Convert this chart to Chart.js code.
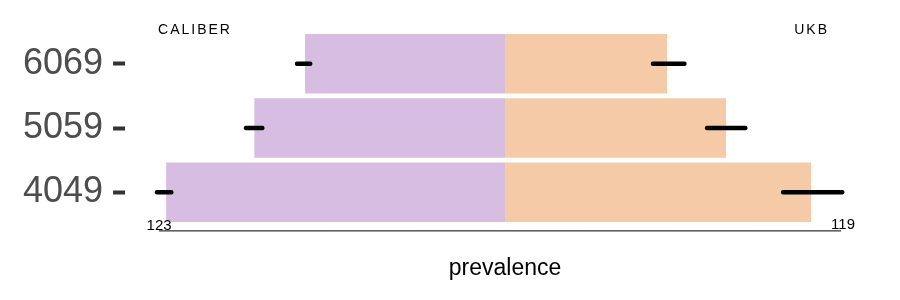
<!DOCTYPE html>
<html>
<head>
<meta charset="utf-8">
<script src="https://cdn.jsdelivr.net/npm/chart.js@4.4.1/dist/chart.umd.min.js"></script>
<style>
  html, body { margin: 0; padding: 0; background: #ffffff; }
  #wrap { width: 900px; height: 300px; }
</style>
</head>
<body>
<div id="wrap"><canvas id="chart" width="900" height="300"></canvas></div>
<script>
// age groups, top to bottom
let ageGroups = ["6069", "5059", "4049"];

// bar lengths (prevalence)
let caliberValues = [71.2, 89.2, 120.5];
let ukbValues = [57.3, 78.2, 108.4];

// error bar ranges [low, high]
let caliberErr = [[68.7, 74.7], [85.7, 92.8], [118.0, 124.4]];
let ukbErr = [[51.6, 64.1], [70.8, 85.7], [97.8, 120.1]];

// labels at the two ends of the axis line
let axisEnds = [123, 119];
let sourceNames = ["CALIBER", "UKB"];

const fontFamily = "'Liberation Sans', Arial, Helvetica, sans-serif";

// left side is drawn as negative values
let caliberBars = caliberValues.map(v => -v);
let caliberErrBars = caliberErr.map(r => [-r[1], -r[0]]);

const extras = {
  id: "extras",
  afterDraw(chart) {
    const ctx = chart.ctx;
    const x = chart.scales.x;
    const area = chart.chartArea;
    const x0 = x.getPixelForValue(-axisEnds[0]);
    const x1 = x.getPixelForValue(axisEnds[1]);
    const lineY = area.bottom + 6.5;

    ctx.save();
    // axis line
    ctx.strokeStyle = "#000000";
    ctx.lineWidth = 1;
    ctx.beginPath();
    ctx.moveTo(x0, lineY);
    ctx.lineTo(x1, lineY);
    ctx.stroke();

    // end labels
    ctx.fillStyle = "#000000";
    ctx.font = "15px " + fontFamily;
    ctx.textAlign = "center";
    ctx.textBaseline = "alphabetic";
    ctx.fillText(String(axisEnds[0]), x0, lineY - 1);
    ctx.fillText(String(axisEnds[1]), x1 + 2, lineY - 2);

    // side headers
    ctx.font = "14px " + fontFamily;
    ctx.letterSpacing = "2px";
    ctx.textBaseline = "middle";
    ctx.textAlign = "left";
    ctx.fillText(sourceNames[0], x0 - 1, 30);
    ctx.textAlign = "right";
    ctx.fillText(sourceNames[1], x1 - 12, 30);
    ctx.restore();
  }
};

new Chart(document.getElementById("chart"), {
  type: "bar",
  data: {
    labels: ageGroups,
    datasets: [
      {
        label: "CALIBER err",
        data: caliberErrBars,
        backgroundColor: "#000000",
        barThickness: 4,
        borderRadius: 2,
        borderSkipped: false,
        grouped: false,
        order: 0
      },
      {
        label: "UKB err",
        data: ukbErr,
        backgroundColor: "#000000",
        barThickness: 4,
        borderRadius: 2,
        borderSkipped: false,
        grouped: false,
        order: 0
      },
      {
        label: sourceNames[0],
        data: caliberBars,
        backgroundColor: "#D7BDE2",
        categoryPercentage: 1,
        barPercentage: 0.923,
        grouped: false,
        order: 1
      },
      {
        label: sourceNames[1],
        data: ukbValues,
        backgroundColor: "#F5CBA7",
        categoryPercentage: 1,
        barPercentage: 0.923,
        grouped: false,
        order: 1
      }
    ]
  },
  options: {
    indexAxis: "y",
    responsive: false,
    animation: false,
    layout: { padding: { left: 13, right: 15, top: 28.5, bottom: 0 } },
    plugins: {
      legend: { display: false },
      tooltip: { enabled: false }
    },
    scales: {
      x: {
        type: "linear",
        min: -135.06,
        max: 134.61,
        border: { display: false },
        grid: { display: false, drawTicks: false },
        ticks: { display: false },
        title: {
          display: true,
          text: "prevalence",
          color: "#000000",
          font: { family: fontFamily, size: 23 },
          padding: { top: 30, bottom: 18 }
        }
      },
      y: {
        border: { display: false },
        grid: {
          display: true,
          offset: false,
          drawOnChartArea: false,
          drawTicks: true,
          tickLength: 12,
          tickWidth: 4,
          tickColor: "#333333"
        },
        ticks: {
          color: "#4d4d4d",
          padding: 10,
          font: { family: fontFamily, size: 36 }
        }
      }
    }
  },
  plugins: [extras]
});
</script>
</body>
</html>
